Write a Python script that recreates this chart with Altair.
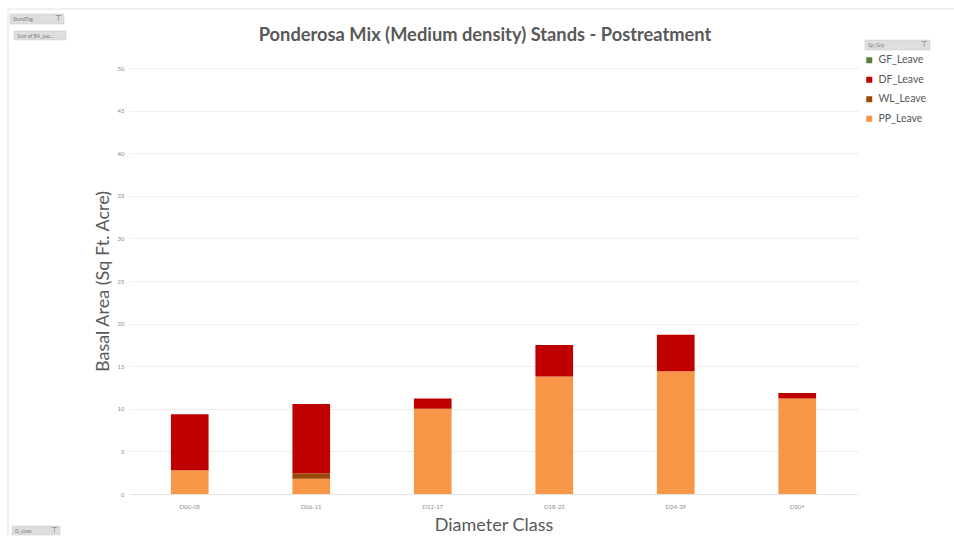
import altair as alt
import pandas as pd

# Basal area (sq ft / acre) left after treatment, by diameter class and species group
classes = ["D00-05", "D06-11", "D12-17", "D18-23", "D24-29", "D30+"]
pp_leave = [2.8, 1.8, 10.0, 13.8, 14.4, 11.2]
wl_leave = [0.0, 0.65, 0.0, 0.0, 0.0, 0.0]
df_leave = [6.55, 8.1, 1.2, 3.7, 4.3, 0.65]
gf_leave = [0.0, 0.0, 0.0, 0.0, 0.0, 0.0]

species = ["GF_Leave", "DF_Leave", "WL_Leave", "PP_Leave"]
colors = ["#5B7F3A", "#C00000", "#984807", "#F79646"]
stack_rank = {"PP_Leave": 0, "WL_Leave": 1, "DF_Leave": 2, "GF_Leave": 3}

y_ticks = [0, 5, 10, 15, 20, 25, 30, 35, 40, 45, 50]

title_text = "Ponderosa Mix (Medium density) Stands - Postreatment"

# pivot-chart field buttons: label, left, top, right, bottom (pixels relative to plot origin)
buttons = [
    ("StandTag", -119, -54, -65, -44, True),
    ("Sum of BA_pac...", -115, -37, -63, -28, False),
    ("D_class", -117, 458, -69, 467, True),
    ("Sp_Grp", 736, -28, 801, -18, True),
]

series = {"PP_Leave": pp_leave, "WL_Leave": wl_leave,
          "DF_Leave": df_leave, "GF_Leave": gf_leave}
rows = []
for sp, vals in series.items():
    for c, v in zip(classes, vals):
        rows.append({"D_class": c, "Species": sp, "BA": v, "rank": stack_rank[sp]})
data = pd.DataFrame(rows)

FONT = "Lato"
GREY = "#595959"

bars = alt.Chart(data).mark_bar().encode(
    x=alt.X("D_class:N", sort=classes,
            scale=alt.Scale(paddingInner=0.69, paddingOuter=0.345),
            axis=alt.Axis(title="Diameter Class", labelAngle=0, labelFontSize=6,
                          labelColor="#8c8c8c", labelPadding=9, ticks=False,
                          grid=False, domainColor="#e3e3e3", titleFontSize=18,
                          titleFont=FONT, titleFontWeight="normal",
                          titleColor=GREY, titlePadding=7, labelFont=FONT)),
    y=alt.Y("sum(BA):Q", stack="zero",
            scale=alt.Scale(domain=[0, 50], nice=False),
            axis=alt.Axis(title="Basal Area (Sq Ft. Acre)", values=y_ticks,
                          labelFontSize=6, labelColor="#8c8c8c", labelPadding=5,
                          ticks=False, domain=False, gridColor="#eeeeee",
                          titleFontSize=18, titleFont=FONT,
                          titleFontWeight="normal", titleColor=GREY,
                          titlePadding=5, labelFont=FONT)),
    color=alt.Color("Species:N",
                    scale=alt.Scale(domain=species, range=colors),
                    legend=alt.Legend(title=None, orient="none", legendX=735,
                                      legendY=-13, symbolType="square",
                                      symbolSize=36, symbolStrokeWidth=0,
                                      labelFontSize=10.5, labelFont=FONT,
                                      labelColor=GREY, rowPadding=8.5)),
    order=alt.Order("rank:Q", sort="ascending"),
)

one = pd.DataFrame({"k": [0]})
layers = [bars]

# chart title, drawn as text so the decorations above the plot do not push it away
layers.append(alt.Chart(one).mark_text(align="center", baseline="middle",
                                       font=FONT, fontSize=18.3, fontWeight="bold",
                                       color=GREY).encode(
    x=alt.value(356), y=alt.value(-32), text=alt.value(title_text)))

# light frame around the chart area
layers.append(alt.Chart(one).mark_rect(fill="transparent", stroke="#e2e2e2", strokeWidth=1).encode(
    x=alt.value(-121), x2=alt.value(840), y=alt.value(-59), y2=alt.value(480)))

for label, x0, y0, x1, y1, has_filter in buttons:
    layers.append(alt.Chart(one).mark_rect(fill="#dedede", stroke="#c8c8c8",
                                           strokeWidth=0.5).encode(
        x=alt.value(x0), x2=alt.value(x1), y=alt.value(y0), y2=alt.value(y1)))
    layers.append(alt.Chart(one).mark_text(align="left", baseline="middle",
                                           fontSize=5, font=FONT,
                                           color="#7a7a7a").encode(
        x=alt.value(x0 + 3), y=alt.value((y0 + y1) / 2), text=alt.value(label)))
    if has_filter:
        layers.append(alt.Chart(one).mark_text(align="right", baseline="middle",
                                               fontSize=8, font="DejaVu Sans",
                                               color="#6a6a6a").encode(
            x=alt.value(x1 - 2), y=alt.value((y0 + y1) / 2), text=alt.value("⊤")))

chart = alt.layer(*layers).properties(
    width=729, height=426,
    background="white",
    padding={"left": 129, "top": 68, "right": 96, "bottom": 42},
    autosize=alt.AutoSizeParams(type="none"),
).configure_view(strokeWidth=0, stroke="transparent")

chart.save("out.html", embed_options={"renderer": "svg", "actions": False})
